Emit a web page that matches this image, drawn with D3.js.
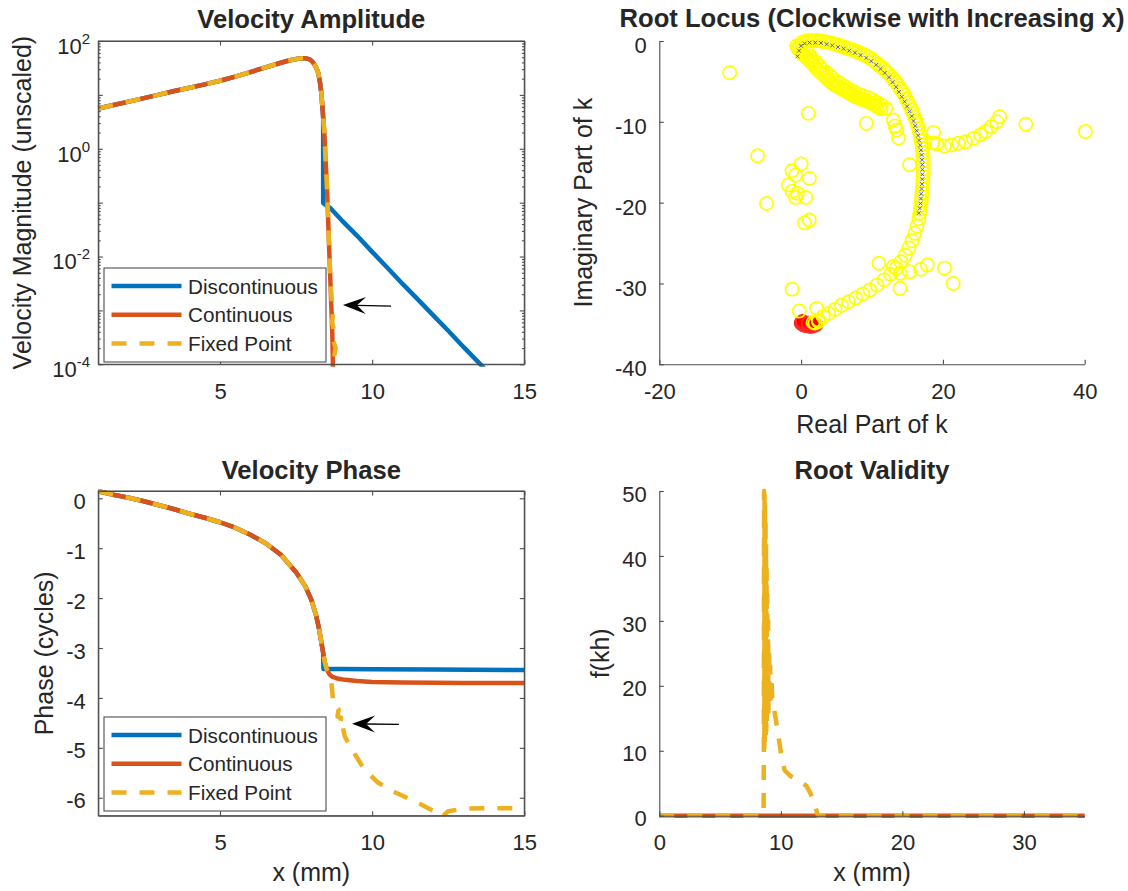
<!DOCTYPE html>
<html>
<head>
<meta charset="utf-8">
<script src="https://cdn.jsdelivr.net/npm/d3@7"></script>
<style>
  body { margin: 0; background: #fff; }
  svg { display: block; }
  text { font-family: "Liberation Sans", Arial, Helvetica, sans-serif; fill: #262626; }
</style>
</head>
<body>
<svg id="fig" width="1128" height="891"></svg>
<script>
// ---------------- data ----------------
const seriesNames = ["Discontinuous", "Continuous", "Fixed Point"];

// Velocity amplitude, [x (mm), |v|] ; common part of all three solutions
const ampShared = [[1.0,5.6],[1.5,6.5],[2.0,7.5],[2.5,8.7],[3.0,10.1],[3.5,11.8],[4.0,13.6],[4.5,15.7],
  [5.0,18.3],[5.5,21.8],[6.0,26.5],[6.5,32.5],[7.0,39.5],[7.3,44.0],[7.6,47.5],[7.8,48.0],[7.95,45.5],
  [8.05,40.5],[8.15,33.0],[8.22,26.5],[8.28,18.0],[8.33,10.7],[8.38,4.6]];
const ampDiscTail = [[8.39,3.6],[8.39,0.098],[8.63,0.079],[9.0,0.047],[9.5,0.0245],[10.0,0.0122],[10.5,0.0062],
  [11.0,0.0031],[11.5,0.0016],[12.0,0.00082],[12.5,0.00042],[13.0,0.00021],[13.56,0.0001],[13.8,0.00007]];
const ampContTail = [[8.43,1.95],[8.47,0.6],[8.51,0.23],[8.54,0.08],[8.57,0.027],[8.6,0.009],[8.63,0.0032],
  [8.66,0.0011],[8.69,0.00038],[8.71,0.0001],[8.73,0.00004]];
const ampFixedTail = [[8.43,1.95],[8.47,0.6],[8.51,0.23],[8.54,0.08],[8.57,0.027],[8.6,0.009],[8.63,0.0033],
  [8.67,0.0016],[8.72,0.0009],[8.68,0.0006],[8.76,0.0004],[8.72,0.00028],[8.8,0.0002],[8.76,0.00015],
  [8.84,0.00011],[8.8,0.00008],[8.86,0.00006]];

// Velocity phase, [x (mm), cycles]
const phaseShared = [[1.0,0.14],[1.5,0.07],[2.0,0.01],[2.5,-0.06],[3.0,-0.14],[3.5,-0.22],[4.0,-0.31],[4.5,-0.39],
  [5.0,-0.48],[5.5,-0.59],[6.0,-0.73],[6.5,-0.9],[7.0,-1.13],[7.5,-1.48],[7.8,-1.76],[8.0,-2.03],[8.15,-2.33],
  [8.25,-2.6],[8.33,-2.88],[8.39,-3.1]];
const phaseDiscTail = [[8.40,-3.42],[9.0,-3.42],[10.0,-3.425],[12.0,-3.43],[15.0,-3.44]];
const phaseContTail = [[8.45,-3.3],[8.51,-3.43],[8.6,-3.53],[8.7,-3.58],[8.85,-3.61],[9.04,-3.63],[9.5,-3.66],
  [10.0,-3.68],[11.0,-3.69],[12.0,-3.695],[13.0,-3.70],[15.0,-3.70]];
const phaseFixedTail = [[8.45,-3.3],[8.51,-3.43],[8.6,-3.53],[8.66,-3.7],[8.7,-3.95],[8.74,-4.17],[8.9,-4.23],
  [8.86,-4.37],[8.98,-4.4],[8.92,-4.63],[9.04,-4.6],[9.1,-4.77],[9.33,-5.03],[9.74,-5.43],[10.2,-5.7],
  [10.68,-5.87],[11.5,-6.1],[12.0,-6.26],[12.3,-6.38],[12.5,-6.27],[13.0,-6.22],[14.0,-6.21],[15.0,-6.21]];

// Root validity f(kh), [x (mm), f]
const validCont = [[0,0],[35,0]];
const validFixed = [[0,0],[8.58,0],[8.6,10],[8.62,50],[8.64,10],[8.66,50],[8.68,11],[8.7,48],[8.72,12],[8.74,46],
  [8.76,12],[8.78,42],[8.8,13],[8.83,38],[8.85,14],[8.88,34],[8.91,15],[8.95,30],[8.98,16],[9.03,26],[9.07,17],
  [9.12,23],[9.18,18],[9.24,20.5],[9.3,17.5],[9.42,16.8],[9.72,13.2],[10.0,9.8],[10.31,7.0],[10.8,6.1],
  [11.5,5.4],[12.1,4.6],[12.4,3.6],[12.7,2.2],[13.06,0],[35,0]];

// Root locus, [Re k, Im k]
const locusArc = [[-0.4,-0.9],[-0.2,-0.5],[0.1,-0.25],[0.4,-0.1],[0.8,0.0],[1.2,0.05],[1.6,0.05],[2.0,0.05],
  [2.4,0.03],[2.8,0.0],[3.2,-0.08],[3.6,-0.15],[4.0,-0.22],[4.4,-0.3],[4.8,-0.4],[5.2,-0.5],[5.6,-0.62],
  [6.0,-0.74],[6.4,-0.86],[6.8,-0.98],[7.2,-1.1],[7.6,-1.22],[8.0,-1.36],[8.4,-1.5],[8.8,-1.66],[9.2,-1.84],
  [9.6,-2.05],[10.0,-2.3],[10.4,-2.56],[10.8,-2.84],[11.2,-3.12],[11.6,-3.42],[12.0,-3.74],[12.35,-4.05],
  [12.7,-4.4],[13.05,-4.75],[13.4,-5.12],[13.7,-5.5],[14.0,-5.9],[14.3,-6.3],[14.6,-6.72],[14.85,-7.15],
  [15.1,-7.6],[15.35,-8.05],[15.6,-8.5],[15.8,-8.95],[16.0,-9.4],[16.2,-9.85],[16.38,-10.3],[16.55,-10.8],
  [16.7,-11.3],[16.82,-11.8],[16.93,-12.3],[17.03,-12.8],[17.1,-13.3],[17.16,-13.8],[17.2,-14.3],[17.22,-14.8],
  [17.23,-15.3],[17.23,-15.8],[17.22,-16.3],[17.2,-16.8],[17.17,-17.3],[17.13,-17.8],[17.09,-18.3],
  [17.05,-18.8],[17.0,-19.3],[16.95,-19.8],[16.9,-20.3],[16.82,-20.8],[16.72,-21.3],
  [16.6,-22.0],[16.35,-22.9],[16.05,-23.8],[15.65,-24.7],[15.2,-25.6],[14.7,-26.5],[14.1,-27.3],[13.4,-28.1],
  [12.6,-28.85],[11.7,-29.55],[10.7,-30.2],[9.7,-30.8],[8.7,-31.3],[7.7,-31.8],[6.7,-32.25],[5.7,-32.7],
  [4.8,-33.2],[3.9,-33.7],[3.1,-34.1],[2.4,-34.5],[1.7,-34.8]];
const locusInner = [[-0.6,-0.6],[-0.4,-1.0],[-0.1,-1.3],[0.2,-1.6],[0.5,-1.85],[0.8,-2.1],[1.1,-2.35],[1.4,-2.6],
  [1.7,-2.9],[2.0,-3.2],[2.3,-3.5],[2.6,-3.75],[2.9,-4.0],[3.2,-4.25],[3.5,-4.5],[3.8,-4.75],[4.1,-5.0],
  [4.4,-5.2],[4.7,-5.4],[5.0,-5.55],[5.3,-5.7],[5.6,-5.85],[5.9,-6.0],[6.2,-6.15],[6.5,-6.3],[6.8,-6.45],
  [7.1,-6.6],[7.4,-6.75],[7.7,-6.9],[8.0,-7.0],[8.3,-7.1],[8.6,-7.2],[8.9,-7.3],[9.2,-7.4],[9.5,-7.5],
  [9.8,-7.65],[10.1,-7.8],[10.4,-7.95],[10.7,-8.1],[11.0,-8.25],[11.3,-8.4],
  [0.3,-1.0],[0.9,-1.4],[1.3,-1.9],[1.6,-2.3],[2.1,-2.6],[2.6,-3.1],[3.0,-3.5],[3.6,-3.9],[4.2,-4.4],
  [4.8,-4.9],[5.4,-5.2],[6.1,-5.6],[6.8,-6.0],[7.5,-6.3],[8.2,-6.6],[8.8,-6.8],[9.5,-7.0],[10.1,-7.3],
  [10.7,-7.6],[11.3,-7.9]];
const locusBranch = [[18.6,-12.6],[19.15,-12.75],[20.2,-13.0],[21.2,-12.87],[22.2,-12.66],[23.2,-12.46],
  [24.3,-12.05],[25.3,-11.6],[26.05,-11.2],[26.8,-10.6],[27.6,-9.98],[28.0,-9.36]];
const locusScatter = [[-10.07,-3.92],[1.02,-8.95],[9.2,-10.19],[-6.14,-14.19],[0.0,-15.2],[-1.28,-16.05],
  [-0.78,-16.6],[1.17,-17.0],[-1.8,-17.8],[-1.28,-18.6],[-0.52,-18.85],[-0.78,-19.35],[0.66,-19.35],
  [-4.87,-20.1],[0.5,-22.5],[1.17,-22.15],[10.97,-27.5],[-1.28,-30.7],[-0.27,-33.4],[2.19,-33.1],[20.2,-28.1],
  [21.45,-30.0],[13.95,-30.6],[31.7,-10.3],[40.1,-11.2],[15.3,-15.3],[18.7,-11.3],[11.95,-8.33],[13.0,-9.78],
  [13.25,-10.5],[13.5,-11.0],[13.75,-12.0],[13.0,-27.9],[13.97,-28.75],[15.3,-28.55],[16.85,-28.25],
  [17.8,-27.7],[1.97,-34.9],[2.44,-34.7]];
const locusRed = [[0.0,-34.9],[0.3,-35.1],[0.6,-35.2],[0.9,-35.2],[1.2,-35.3],[1.5,-35.3],[1.8,-35.2],
  [2.1,-35.1],[0.2,-34.7],[1.0,-34.9],[1.6,-35.0]];
const locusCross = [[-0.5,-1.9],[-0.3,-1.2],[0.0,-0.6],[0.5,-0.3],[1.2,-0.2],[2.0,-0.2],[2.8,-0.25],[3.6,-0.4],
  [4.4,-0.55],[5.2,-0.75],[6.0,-0.95],[6.8,-1.2],[7.6,-1.45],[8.4,-1.75],[9.2,-2.1],[9.9,-2.5],[10.6,-2.95],
  [11.2,-3.45],[11.8,-3.95],[12.4,-4.5],[12.9,-5.1],[13.4,-5.7],[13.8,-6.3],[14.2,-6.9],[14.6,-7.5],
  [14.95,-8.1],[15.3,-8.7],[15.6,-9.3],[15.85,-9.9],[16.1,-10.5],[16.3,-11.1],[16.5,-11.7],[16.65,-12.3],
  [16.8,-12.9],[16.9,-13.5],[17.0,-14.1],[17.05,-14.7],[17.1,-15.3],[17.1,-15.9],[17.1,-16.5],[17.1,-17.1],
  [17.05,-17.7],[17.0,-18.3],[16.95,-18.9],[16.9,-19.5],[16.85,-20.1],[16.75,-20.7],[16.6,-21.3]];

// tick values
const ampXTicks = [5, 10, 15];
const ampYDecades = [1e-4, 1e-3, 1e-2, 1e-1, 1e0, 1e1, 1e2];
const phaseYTicks = [0, -1, -2, -3, -4, -5, -6];
const locusXTicks = [-20, 0, 20, 40];
const locusYTicks = [0, -10, -20, -30, -40];
const validXTicks = [0, 10, 20, 30];
const validYTicks = [0, 10, 20, 30, 40, 50];

// ---------------- drawing ----------------
const COLORS = ["#0072BD", "#D95319", "#EDB120"];
const LW = 4.5, DASH = "15,13";
const AXIS_STROKE = "#4d4d4d";
const TICK_FONT = 22, LABEL_FONT = 25, TITLE_FONT = 25.6, LEGEND_FONT = 20.7;

const svg = d3.select("#fig");
const fmt = d => String(d);

const frames = {
  amp:   {l: 98.3,  r: 524.3,  t: 41,  b: 364.3},
  locus: {l: 659.3, r: 1084.7, t: 41,  b: 364.3},
  phase: {l: 98.3,  r: 524.3,  t: 491, b: 815.7},
  valid: {l: 659.3, r: 1084.7, t: 491, b: 815.7}
};

function styleAxis(g, size) {
  g.attr("font-family", null).attr("font-size", size);
  g.selectAll("path.domain").attr("stroke", AXIS_STROKE).attr("stroke-width", 1.1);
  g.selectAll(".tick line").attr("stroke", AXIS_STROKE).attr("stroke-width", 1.1);
  g.selectAll(".tick text").attr("fill", "#262626");
}

function axes(f, x, y, o) {
  const g = svg.append("g");
  const tk = 4.5;
  const bottom = g.append("g").attr("transform", `translate(0,${f.b})`)
    .call(d3.axisBottom(x).tickValues(o.xTicks).tickFormat(fmt).tickSizeInner(-tk).tickSizeOuter(0).tickPadding(o.xPad || 19));
  styleAxis(bottom, TICK_FONT);
  const left = g.append("g").attr("transform", `translate(${f.l},0)`)
    .call(d3.axisLeft(y).tickValues(o.yTicks).tickFormat(o.yFormat || fmt).tickSizeInner(-tk).tickSizeOuter(0).tickPadding(12.6));
  styleAxis(left, TICK_FONT);
  left.selectAll(".tick text").attr("dy", o.yDy || "0.46em");
  if (o.box) {
    const top = g.append("g").attr("transform", `translate(0,${f.t})`)
      .call(d3.axisTop(x).tickValues(o.xTicks).tickFormat("").tickSizeInner(-tk).tickSizeOuter(0));
    styleAxis(top, TICK_FONT);
    const right = g.append("g").attr("transform", `translate(${f.r},0)`)
      .call(d3.axisRight(y).tickValues(o.yTicks).tickFormat("").tickSizeInner(-tk).tickSizeOuter(0));
    styleAxis(right, TICK_FONT);
  }
  return {g, left};
}

function title(f, txt, yb) {
  svg.append("text").attr("x", (f.l + f.r) / 2).attr("y", yb).attr("text-anchor", "middle")
    .attr("font-size", TITLE_FONT).attr("font-weight", "bold").attr("fill", "#000").text(txt);
}
function ylabel(xb, yc, txt) {
  svg.append("text").attr("transform", `translate(${xb},${yc}) rotate(-90)`).attr("text-anchor", "middle")
    .attr("font-size", LABEL_FONT).text(txt);
}
function xlabel(xc, yb, txt) {
  svg.append("text").attr("x", xc).attr("y", yb).attr("text-anchor", "middle")
    .attr("font-size", LABEL_FONT).text(txt);
}
function clip(id, f) {
  svg.append("clipPath").attr("id", id).append("rect")
    .attr("x", f.l - 2.5).attr("y", f.t - 2.5).attr("width", f.r - f.l + 5).attr("height", f.b - f.t + 5);
}
function drawLine(g, data, x, y, i) {
  const line = d3.line().x(d => x(d[0])).y(d => y(d[1]));
  const p = g.append("path").datum(data).attr("d", line).attr("fill", "none")
    .attr("stroke", COLORS[i]).attr("stroke-width", LW).attr("stroke-linejoin", "round");
  if (i === 2) p.attr("stroke-dasharray", DASH);
  return p;
}
function legend(x0, y0) {
  const g = svg.append("g").attr("transform", `translate(${x0},${y0})`);
  g.append("rect").attr("width", 222).attr("height", 94).attr("fill", "#fff")
    .attr("stroke", AXIS_STROKE).attr("stroke-width", 1.1);
  seriesNames.forEach((name, i) => {
    const yy = 18 + i * 28.8;
    const l = g.append("line").attr("x1", 7.5).attr("x2", 77.5).attr("y1", yy).attr("y2", yy)
      .attr("stroke", COLORS[i]).attr("stroke-width", LW);
    if (i === 2) l.attr("stroke-dasharray", DASH);
    g.append("text").attr("x", 84).attr("y", yy + 7.5).attr("font-size", LEGEND_FONT).attr("fill", "#000").text(name);
  });
}
function arrow(x1, y1, x2, y2) {
  // shaft from (x1,y1) to tip (x2,y2), head drawn along the shaft direction
  const a = Math.atan2(y2 - y1, x2 - x1);
  const g = svg.append("g").attr("transform", `translate(${x2},${y2}) rotate(${a * 180 / Math.PI})`);
  const len = Math.hypot(x2 - x1, y2 - y1);
  g.append("line").attr("x1", -len).attr("x2", -14).attr("y1", 0).attr("y2", 0)
    .attr("stroke", "#000").attr("stroke-width", 1.3);
  g.append("path").attr("d", "M0,0 L-23,-8.5 L-14,0 L-23,8.5 Z").attr("fill", "#000");
}

// ---- Velocity Amplitude ----
{
  const f = frames.amp;
  const x = d3.scaleLinear().domain([1, 15]).range([f.l, f.r]);
  const y = d3.scaleLog().domain([1e-4, 1e2]).range([f.b, f.t]);
  clip("clipAmp", f);
  const g = svg.append("g").attr("clip-path", "url(#clipAmp)");
  drawLine(g, ampShared.concat(ampDiscTail), x, y, 0);
  drawLine(g, ampShared.concat(ampContTail), x, y, 1);
  drawLine(g, ampShared.concat(ampFixedTail), x, y, 2);

  svg.append("rect").attr("x", f.l).attr("y", f.t).attr("width", f.r - f.l).attr("height", f.b - f.t)
    .attr("fill", "none").attr("stroke", AXIS_STROKE).attr("stroke-width", 1.1);
  const ax = axes(f, x, y, {xTicks: ampXTicks, yTicks: ampYDecades, box: true, yFormat: () => ""});
  // minor log ticks
  const minor = [];
  ampYDecades.slice(0, -1).forEach(d => { for (let k = 2; k <= 9; k++) minor.push(d * k); });
  [[d3.axisLeft, f.l], [d3.axisRight, f.r]].forEach(([A, px]) => {
    const m = svg.append("g").attr("transform", `translate(${px},0)`)
      .call(A(y).tickValues(minor).tickFormat("").tickSizeInner(-2.4).tickSizeOuter(0));
    styleAxis(m, TICK_FONT);
    m.select("path.domain").remove();
  });
  // power-of-ten labels
  ax.left.selectAll(".tick").each(function (d) {
    const e = Math.round(Math.log10(d));
    if (e % 2 !== 0) return;
    const t = d3.select(this).select("text").attr("dy", null).attr("x", -8.3).attr("y", 12.3);
    t.append("tspan").text("10");
    t.append("tspan").attr("dy", -10).attr("font-size", 15).text(String(e));
  });
  legend(104, 268);
  arrow(x(10.62), y(1.2e-3), x(9.04), y(1.26e-3));
  title(f, "Velocity Amplitude", 28);
  ylabel(30.6, (f.t + f.b) / 2, "Velocity Magnitude (unscaled)");
}

// ---- Root Locus ----
{
  const f = frames.locus;
  const x = d3.scaleLinear().domain([-20, 40]).range([f.l, f.r]);
  const y = d3.scaleLinear().domain([-40, 0]).range([f.b, f.t]);
  const r = 6.6;
  const g = svg.append("g");
  g.selectAll("circle.red").data(locusRed).join("circle").attr("class", "red")
    .attr("cx", d => x(d[0])).attr("cy", d => y(d[1])).attr("r", r)
    .attr("fill", "#ff0000").attr("stroke", "#ff2a2a").attr("stroke-width", 1.6);
  const yellow = locusArc.concat(locusInner, locusBranch, locusScatter);
  g.selectAll("circle.yel").data(yellow).join("circle").attr("class", "yel")
    .attr("cx", d => x(d[0])).attr("cy", d => y(d[1])).attr("r", r)
    .attr("fill", "none").attr("stroke", "#ffff00").attr("stroke-width", 1.7);
  g.selectAll("path.cross").data(locusCross).join("path").attr("class", "cross")
    .attr("transform", d => `translate(${x(d[0])},${y(d[1])})`)
    .attr("d", "M-1.9,-1.9L1.9,1.9M-1.9,1.9L1.9,-1.9").attr("stroke", "#0000ff").attr("stroke-width", 0.9).attr("opacity", 0.7);

  axes(f, x, y, {xTicks: locusXTicks, yTicks: locusYTicks, box: false, xPad: 19.5, yDy: "0.53em"});
  title(f, "Root Locus (Clockwise with Increasing x)", 27);
  ylabel(592, (f.t + f.b) / 2, "Imaginary Part of k");
  xlabel((f.l + f.r) / 2, 433, "Real Part of k");
}

// ---- Velocity Phase ----
{
  const f = frames.phase;
  const x = d3.scaleLinear().domain([1, 15]).range([f.l, f.r]);
  const y = d3.scaleLinear().domain([-6.36, 0.146]).range([f.b, f.t]);
  clip("clipPhase", f);
  const g = svg.append("g").attr("clip-path", "url(#clipPhase)");
  drawLine(g, phaseShared.concat(phaseDiscTail), x, y, 0);
  drawLine(g, phaseShared.concat(phaseContTail), x, y, 1);
  drawLine(g, phaseShared.concat(phaseFixedTail), x, y, 2);
  svg.append("rect").attr("x", f.l).attr("y", f.t).attr("width", f.r - f.l).attr("height", f.b - f.t)
    .attr("fill", "none").attr("stroke", AXIS_STROKE).attr("stroke-width", 1.1);
  axes(f, x, y, {xTicks: ampXTicks, yTicks: phaseYTicks, box: true});
  legend(104, 717);
  arrow(x(10.88), y(-4.53), x(9.34), y(-4.52));
  title(f, "Velocity Phase", 479.3);
  ylabel(52.5, (f.t + f.b) / 2, "Phase (cycles)");
  xlabel((f.l + f.r) / 2, 881, "x (mm)");
}

// ---- Root Validity ----
{
  const f = frames.valid;
  const x = d3.scaleLinear().domain([0, 35]).range([f.l, f.r]);
  const y = d3.scaleLinear().domain([0, 50]).range([f.b, f.t]);
  const g = svg.append("g");
  drawLine(g, validCont, x, y, 1);
  drawLine(g, validFixed, x, y, 2);
  axes(f, x, y, {xTicks: validXTicks, yTicks: validYTicks, box: false});
  title(f, "Root Validity", 479.3);
  ylabel(609, (f.t + f.b) / 2, "f(kh)");
  xlabel((f.l + f.r) / 2, 881, "x (mm)");
}
</script>
</body>
</html>
